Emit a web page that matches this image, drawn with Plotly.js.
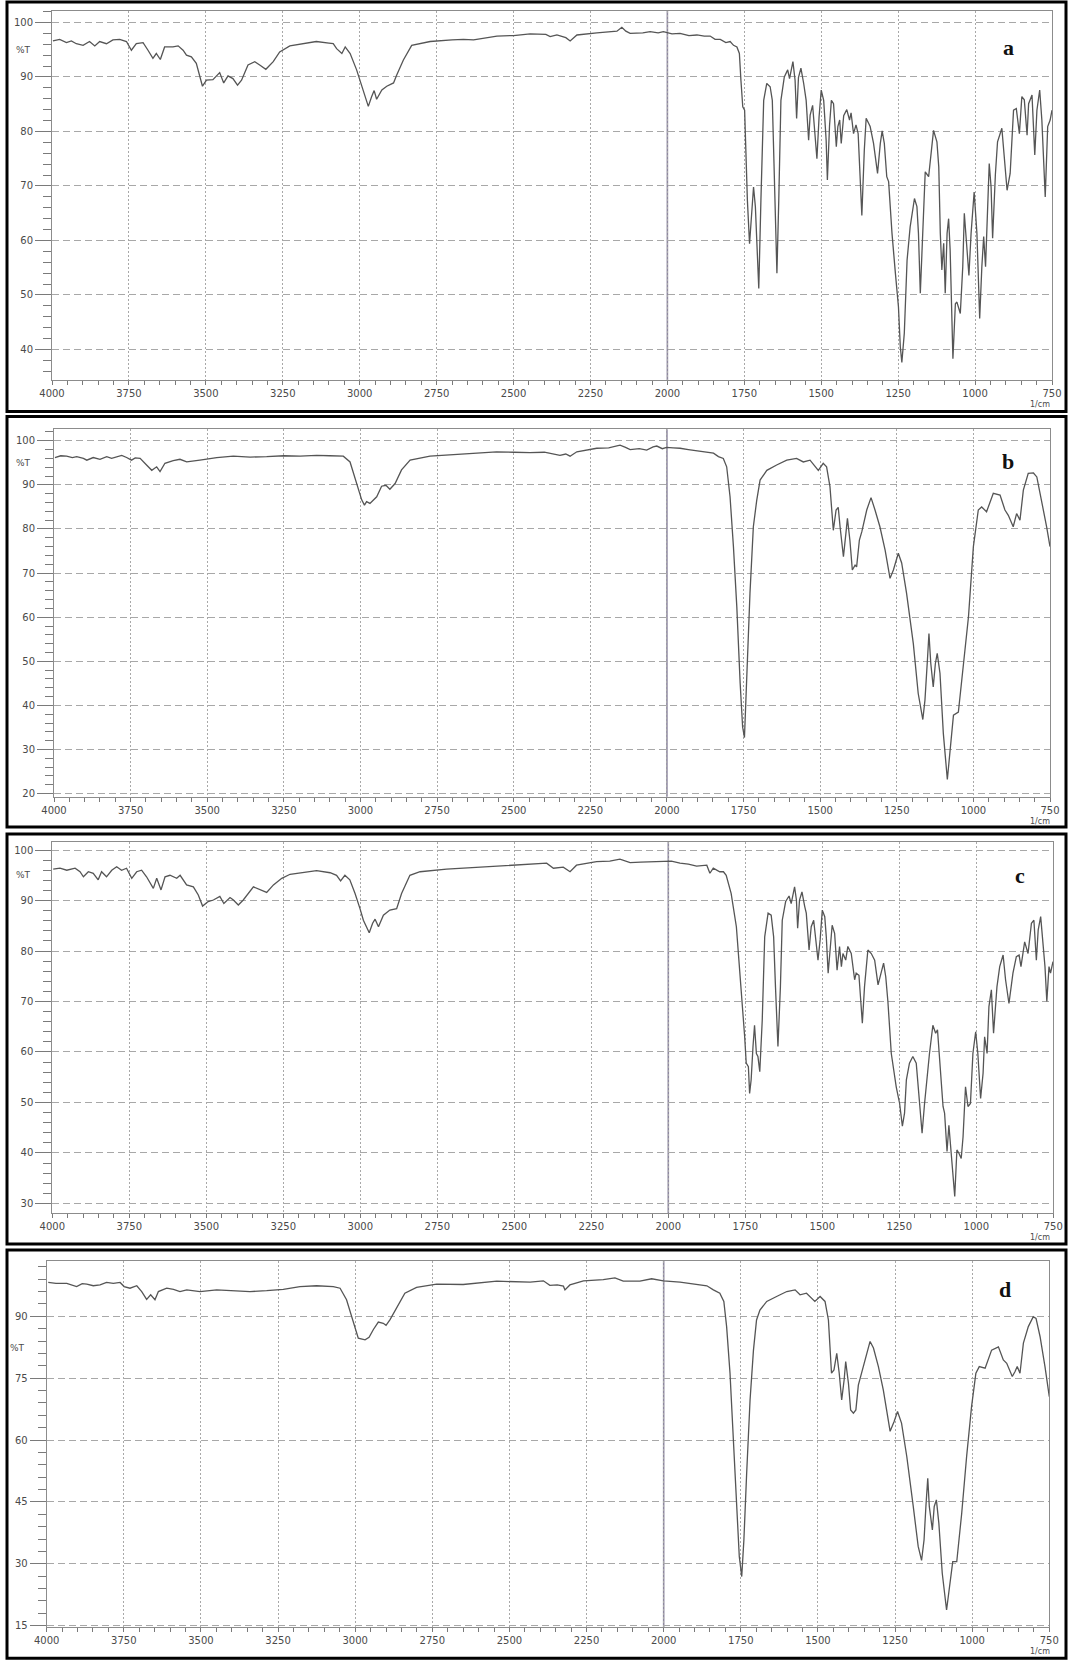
<!DOCTYPE html>
<html>
<head>
<meta charset="utf-8">
<script src="https://cdn.plot.ly/plotly-3.0.1.min.js"></script>
<style>
  html, body { margin: 0; padding: 0; background: #fff; }
  #chart { width: 1070px; height: 1661px; }
</style>
</head>
<body>
<div id="chart"></div>
<script>
// FTIR spectra, [wavenumber (1/cm), %T]
const specA = [[3997,96.6],[3975,96.9],[3953,96.3],[3937,96.6],[3921,96.1],[3899,95.8],[3878,96.5],[3861,95.7],[3845,96.5],[3823,96.1],[3802,96.8],[3780,96.9],[3758,96.5],[3742,94.9],[3726,96.1],[3704,96.3],[3688,94.9],[3672,93.4],[3661,94.3],[3648,93.2],[3634,95.5],[3607,95.5],[3590,95.7],[3574,94.9],[3563,94.0],[3547,93.7],[3531,92.5],[3520,90.3],[3511,88.3],[3498,89.4],[3477,89.5],[3455,90.8],[3442,88.9],[3428,90.2],[3412,89.7],[3397,88.5],[3384,89.4],[3363,92.2],[3341,92.8],[3325,92.2],[3305,91.4],[3281,92.8],[3260,94.6],[3227,95.7],[3195,96.0],[3141,96.5],[3100,96.2],[3086,96.1],[3075,95.2],[3058,94.3],[3047,95.5],[3031,94.3],[3010,91.3],[2988,87.6],[2972,84.6],[2961,86.4],[2953,87.5],[2945,85.9],[2928,87.6],[2912,88.3],[2890,88.9],[2880,90.3],[2858,93.1],[2831,95.8],[2771,96.5],[2700,96.8],[2663,96.9],[2630,96.8],[2554,97.5],[2500,97.6],[2446,97.9],[2395,97.8],[2381,97.4],[2359,97.7],[2330,97.2],[2316,96.6],[2294,97.7],[2229,98.1],[2190,98.2],[2164,98.4],[2148,99.1],[2135,98.4],[2121,98.0],[2080,98.1],[2056,98.3],[2030,98.1],[2013,98.3],[1985,97.9],[1959,98.0],[1930,97.6],[1904,97.7],[1880,97.5],[1861,97.5],[1845,96.9],[1828,96.9],[1810,96.3],[1796,96.5],[1785,95.8],[1774,95.5],[1766,94.3],[1761,89.4],[1755,84.5],[1749,83.9],[1745,74.1],[1740,67.4],[1733,59.4],[1725,66.2],[1720,69.8],[1714,66.2],[1707,56.4],[1703,51.2],[1696,67.4],[1687,85.7],[1677,88.8],[1666,88.2],[1659,85.7],[1653,74.7],[1644,54.0],[1638,67.4],[1631,85.7],[1620,90.0],[1609,91.3],[1603,89.7],[1592,92.8],[1585,89.4],[1580,82.4],[1574,89.9],[1566,91.6],[1557,88.8],[1549,85.7],[1541,78.4],[1536,83.0],[1528,84.8],[1520,79.6],[1514,75.0],[1507,82.7],[1500,87.6],[1492,85.7],[1484,78.4],[1480,71.1],[1473,81.1],[1467,85.7],[1460,85.1],[1451,77.2],[1446,80.9],[1440,82.1],[1435,77.8],[1427,82.9],[1417,84.0],[1408,82.1],[1403,83.4],[1395,79.6],[1387,81.2],[1380,79.6],[1368,64.6],[1360,76.6],[1354,82.4],[1346,81.5],[1341,80.9],[1330,77.8],[1317,72.3],[1308,77.8],[1302,80.1],[1295,77.8],[1287,71.7],[1281,70.8],[1270,61.3],[1259,54.0],[1249,47.8],[1243,40.5],[1238,37.6],[1230,43.0],[1221,56.4],[1211,62.5],[1197,67.7],[1189,66.2],[1184,61.3],[1178,50.3],[1170,61.3],[1162,72.6],[1151,71.7],[1146,74.1],[1135,80.2],[1124,78.1],[1118,73.5],[1113,61.3],[1108,54.6],[1102,59.5],[1097,50.3],[1091,61.3],[1086,64.0],[1081,58.2],[1072,38.3],[1064,48.4],[1059,48.7],[1048,46.6],[1040,55.2],[1035,65.0],[1029,60.1],[1020,53.6],[1013,61.3],[1003,68.9],[994,61.3],[985,45.7],[978,55.2],[972,60.7],[966,55.2],[959,67.4],[954,74.1],[948,69.8],[943,60.4],[934,72.1],[927,78.1],[913,80.6],[905,74.7],[896,69.2],[886,72.3],[875,83.9],[866,84.2],[856,79.6],[848,86.4],[840,85.8],[831,79.3],[826,85.1],[815,86.7],[806,75.7],[799,83.9],[790,87.6],[783,82.1],[772,68.0],[764,80.9],[756,82.1],[750,83.9]];

const specB = [[3997,96.2],[3978,96.6],[3959,96.5],[3940,96.2],[3926,96.4],[3904,96.0],[3893,95.6],[3872,96.2],[3850,95.8],[3828,96.4],[3812,96.0],[3796,96.4],[3779,96.7],[3763,96.2],[3747,95.6],[3735,96.1],[3719,96.0],[3698,94.5],[3681,93.3],[3665,94.1],[3654,93.0],[3638,94.9],[3611,95.5],[3589,95.8],[3567,95.2],[3524,95.6],[3469,96.2],[3415,96.5],[3360,96.3],[3306,96.4],[3250,96.6],[3197,96.5],[3143,96.7],[3100,96.6],[3056,96.5],[3034,95.2],[3029,94.1],[3012,90.3],[2996,86.6],[2987,85.4],[2980,86.2],[2969,85.8],[2947,87.3],[2931,89.7],[2917,89.9],[2904,89.0],[2887,90.3],[2866,93.4],[2838,95.6],[2773,96.5],[2700,96.8],[2664,97.1],[2610,97.2],[2556,97.5],[2500,97.4],[2447,97.3],[2400,97.4],[2371,97.1],[2349,96.7],[2330,97.0],[2316,96.5],[2294,97.5],[2260,98.0],[2229,98.3],[2190,98.4],[2153,99.0],[2135,98.5],[2120,98.0],[2090,98.2],[2066,97.9],[2045,98.6],[2033,98.8],[2015,98.2],[2001,98.5],[1980,98.4],[1957,98.3],[1930,98.0],[1903,97.7],[1870,97.5],[1848,97.2],[1832,96.4],[1816,96.0],[1805,94.1],[1794,87.3],[1783,76.0],[1772,62.4],[1761,45.0],[1753,35.1],[1747,32.7],[1740,45.0],[1729,65.4],[1718,80.5],[1707,86.5],[1696,91.1],[1674,93.3],[1642,94.5],[1609,95.6],[1577,96.0],[1555,95.2],[1533,95.6],[1506,93.3],[1490,94.9],[1479,94.1],[1468,89.6],[1457,79.7],[1448,84.3],[1441,84.9],[1435,80.5],[1424,73.7],[1416,79.0],[1411,82.4],[1403,77.5],[1395,70.7],[1386,71.8],[1381,71.4],[1372,77.5],[1364,79.4],[1348,84.3],[1334,87.1],[1321,84.3],[1305,80.5],[1288,75.2],[1272,68.8],[1261,70.7],[1245,74.5],[1234,72.3],[1218,65.4],[1196,54.0],[1180,42.7],[1165,36.8],[1158,41.2],[1150,50.3],[1145,56.3],[1139,49.5],[1131,44.2],[1124,49.5],[1118,51.8],[1109,47.3],[1098,33.6],[1085,23.2],[1076,29.9],[1065,37.8],[1049,38.5],[1033,48.7],[1016,60.1],[1000,76.0],[984,84.3],[973,85.0],[957,83.9],[935,88.1],[913,87.7],[897,84.3],[886,83.1],[870,80.5],[859,83.5],[848,82.0],[837,88.8],[821,92.6],[804,92.7],[793,91.8],[777,86.5],[761,80.5],[750,76.0]];

const specC = [[3997,96.2],[3975,96.4],[3953,96.0],[3926,96.4],[3910,95.7],[3899,94.7],[3883,95.7],[3867,95.4],[3851,94.1],[3840,95.7],[3824,94.7],[3807,96.0],[3791,96.7],[3775,96.0],[3759,96.4],[3742,94.4],[3726,95.7],[3710,96.0],[3694,94.7],[3672,92.4],[3661,94.4],[3647,92.1],[3634,94.7],[3618,95.0],[3596,94.4],[3585,95.0],[3564,93.1],[3542,92.7],[3526,91.1],[3512,88.9],[3494,89.8],[3477,90.1],[3456,90.8],[3443,89.4],[3423,90.6],[3412,90.1],[3396,89.1],[3380,90.1],[3347,92.7],[3326,92.2],[3304,91.6],[3282,93.1],[3255,94.4],[3228,95.2],[3196,95.5],[3142,95.9],[3098,95.5],[3077,95.0],[3064,93.9],[3050,95.0],[3034,94.1],[3017,91.4],[3001,88.4],[2990,86.1],[2971,83.6],[2960,85.5],[2952,86.3],[2941,84.8],[2925,87.1],[2904,88.1],[2882,88.4],[2866,91.4],[2839,95.0],[2806,95.7],[2720,96.2],[2611,96.6],[2503,97.1],[2450,97.2],[2395,97.4],[2373,96.4],[2341,96.6],[2319,95.7],[2298,97.0],[2233,97.7],[2190,97.8],[2157,98.2],[2124,97.5],[2090,97.6],[2059,97.7],[2016,97.7],[1990,97.8],[1962,97.4],[1935,97.2],[1908,96.8],[1875,97.0],[1865,95.4],[1854,96.4],[1833,95.7],[1821,95.7],[1812,95.0],[1796,91.4],[1779,84.8],[1763,72.9],[1752,63.0],[1747,57.8],[1740,57.1],[1736,51.8],[1731,54.5],[1725,61.1],[1720,65.3],[1714,59.7],[1709,59.1],[1703,56.1],[1695,66.3],[1687,82.8],[1676,87.5],[1666,87.1],[1658,82.8],[1652,72.9],[1644,61.1],[1636,72.9],[1630,86.1],[1619,89.8],[1608,90.9],[1601,89.4],[1590,92.7],[1584,90.1],[1580,84.5],[1574,90.1],[1566,91.7],[1557,88.8],[1552,87.5],[1543,80.2],[1536,84.8],[1528,86.1],[1520,80.9],[1514,78.2],[1507,82.2],[1500,88.1],[1492,86.8],[1487,82.8],[1481,75.6],[1473,82.2],[1468,85.1],[1460,83.5],[1452,76.2],[1444,80.9],[1438,76.9],[1433,79.5],[1424,78.2],[1417,80.9],[1406,79.5],[1395,74.3],[1390,75.6],[1381,75.2],[1370,65.7],[1363,72.9],[1352,80.2],[1341,79.5],[1330,78.2],[1319,73.3],[1308,76.2],[1301,77.6],[1294,74.9],[1287,70.0],[1276,59.7],[1260,53.1],[1249,49.8],[1240,45.3],[1233,47.9],[1227,54.5],[1217,57.8],[1206,59.1],[1195,57.8],[1184,49.8],[1176,43.9],[1168,49.8],[1159,55.8],[1152,59.7],[1141,65.3],[1132,63.7],[1126,64.4],[1119,57.8],[1108,49.2],[1103,47.9],[1095,40.3],[1089,45.5],[1081,39.9],[1070,31.4],[1063,40.6],[1056,39.9],[1049,38.9],[1043,43.2],[1035,53.1],[1027,49.2],[1019,49.8],[1011,59.7],[1002,64.0],[995,59.7],[986,50.8],[978,55.8],[973,63.0],[965,59.7],[959,69.0],[951,72.3],[944,63.7],[933,72.9],[924,76.9],[913,79.2],[905,74.3],[894,69.6],[881,75.6],[870,78.9],[861,79.2],[855,76.9],[843,81.8],[832,79.5],[821,85.5],[813,86.1],[805,78.2],[799,84.2],[791,86.8],[784,82.2],[777,76.9],[771,70.0],[764,76.9],[759,75.6],[751,77.9]];

const specD = [[3995,98.2],[3970,98.0],[3935,98.0],[3920,97.6],[3903,97.2],[3885,97.9],[3870,97.8],[3849,97.4],[3827,97.6],[3806,98.2],[3784,98.0],[3762,98.2],[3749,97.2],[3730,96.8],[3708,97.4],[3692,96.0],[3676,94.1],[3663,95.2],[3649,94.0],[3638,96.0],[3611,96.8],[3589,96.5],[3568,96.0],[3546,96.4],[3503,96.0],[3449,96.4],[3395,96.2],[3341,96.0],[3287,96.2],[3233,96.5],[3179,97.2],[3125,97.4],[3071,97.2],[3049,96.8],[3028,94.0],[3006,88.3],[2990,84.7],[2968,84.3],[2955,84.9],[2941,86.8],[2925,88.6],[2909,88.3],[2900,87.8],[2887,89.2],[2866,92.0],[2839,95.6],[2801,97.0],[2736,97.8],[2650,97.7],[2590,98.2],[2541,98.5],[2433,98.3],[2390,98.6],[2369,97.5],[2345,97.6],[2325,97.3],[2320,96.4],[2304,97.6],[2260,98.6],[2196,98.9],[2158,99.3],[2131,98.5],[2077,98.5],[2039,99.1],[2001,98.6],[1947,98.3],[1893,97.8],[1860,97.4],[1839,96.4],[1818,95.6],[1805,93.6],[1796,87.5],[1785,76.2],[1774,60.0],[1763,43.9],[1755,31.8],[1747,26.9],[1740,35.8],[1731,52.0],[1720,69.7],[1709,81.8],[1699,89.1],[1688,91.5],[1666,93.6],[1634,94.8],[1601,96.0],[1574,96.4],[1558,95.2],[1537,95.6],[1510,93.6],[1493,94.8],[1477,93.6],[1466,89.1],[1456,76.2],[1448,77.0],[1439,81.0],[1431,76.2],[1423,69.7],[1415,74.6],[1410,79.0],[1401,73.7],[1394,67.3],[1385,66.5],[1377,67.3],[1369,73.3],[1358,76.2],[1344,80.2],[1331,83.9],[1320,82.3],[1304,77.8],[1288,72.1],[1277,66.5],[1266,62.1],[1253,64.5],[1242,66.9],[1229,64.1],[1212,56.0],[1191,43.9],[1175,34.2],[1164,30.8],[1156,35.8],[1150,43.9],[1144,50.7],[1139,43.9],[1129,38.2],[1123,43.9],[1116,45.5],[1108,39.8],[1097,27.7],[1083,18.8],[1074,23.7],[1063,30.5],[1050,30.5],[1034,42.2],[1018,56.0],[1002,68.1],[988,76.2],[977,77.8],[958,77.4],[937,81.8],[915,82.6],[899,79.4],[888,78.6],[870,75.4],[861,76.6],[854,77.8],[845,76.2],[834,83.5],[818,87.5],[802,89.9],[793,89.5],[780,85.1],[764,77.8],[750,70.5]];

// axis ticks
const xTicks = [4000, 3750, 3500, 3250, 3000, 2750, 2500, 2250, 2000, 1750, 1500, 1250, 1000, 750];
const yTicksABC = [20, 30, 40, 50, 60, 70, 80, 90, 100];
const yTicksD = [15, 30, 45, 60, 75, 90];
const panelLabels = ['a', 'b', 'c', 'd'];
const yUnit = '%T';
const xUnit = '1/cm';

const W = 1070, H = 1661;
const px = v => v / W;
const py = v => 1 - v / H;

// panel geometry in page pixels
const panels = [
  { spec: specA, plot: [52, 1052, 11, 380],       yr: [34.4, 102.1], ticks: yTicksABC, minor: 2,
    frame: [7, 1066, 2, 411.5],     unitY: 50,    tag: [1008, 48] },
  { spec: specB, plot: [54, 1050, 429.3, 796.7],  yr: [19.3, 102.6], ticks: yTicksABC, minor: 2,
    frame: [7, 1066, 416.5, 827],   unitY: 462.7, tag: [1008, 461] },
  { spec: specC, plot: [52.3, 1053.3, 841.7, 1213.3], yr: [28.05, 101.65], ticks: yTicksABC, minor: 2,
    frame: [7, 1066, 834, 1244],    unitY: 875,   tag: [1020, 875] },
  { spec: specD, plot: [46.7, 1049.3, 1261, 1627.3], yr: [14.6, 103.4], ticks: yTicksD, minor: 3,
    frame: [7, 1066, 1250, 1658.3], unitY: 1348,  tag: [1005, 1289] }
];

const tickFont = { family: 'DejaVu Sans, Verdana, sans-serif', size: 10, color: '#4a4a4a' };
const data = [];
const layout = {
  width: W, height: H,
  margin: { l: 0, r: 0, t: 0, b: 0 },
  paper_bgcolor: '#ffffff', plot_bgcolor: '#ffffff',
  showlegend: false,
  shapes: [], annotations: []
};

panels.forEach((p, i) => {
  const n = i === 0 ? '' : String(i + 1);
  const xa = 'x' + n, ya = 'y' + n;
  data.push({
    x: p.spec.map(d => d[0]),
    y: p.spec.map(d => d[1]),
    xaxis: xa, yaxis: ya,
    type: 'scatter', mode: 'lines',
    line: { color: '#555555', width: 1.3 },
    hoverinfo: 'skip'
  });
  layout['xaxis' + n] = {
    domain: [px(p.plot[0]), px(p.plot[1])],
    anchor: ya,
    range: [4000, 750], autorange: false,
    tickmode: 'array', tickvals: xTicks, ticktext: xTicks.map(String),
    ticks: 'outside', ticklen: 4, tickwidth: 1, tickcolor: '#7a7a7a',
    minor: { dtick: 50, tick0: 0, ticks: 'outside', ticklen: 4, tickcolor: '#7a7a7a', showgrid: false },
    showgrid: true, gridcolor: '#a8a8a8', gridwidth: 1, griddash: '2px,2px',
    showline: true, mirror: true, linecolor: '#8c8c8c', linewidth: 1,
    zeroline: false, tickfont: tickFont, fixedrange: true
  };
  layout['yaxis' + n] = {
    domain: [py(p.plot[3]), py(p.plot[2])],
    anchor: xa,
    range: p.yr, autorange: false,
    tickmode: 'array', tickvals: p.ticks, ticktext: p.ticks.map(String),
    ticks: 'outside', ticklen: 16, tickwidth: 1, tickcolor: '#7a7a7a',
    minor: { dtick: p.minor, tick0: 0, ticks: 'outside', ticklen: 8, tickcolor: '#7a7a7a', showgrid: false },
    showgrid: true, gridcolor: '#a8a8a8', gridwidth: 1, griddash: '7px,4px',
    showline: true, mirror: true, linecolor: '#8c8c8c', linewidth: 1,
    zeroline: false, tickfont: tickFont, fixedrange: true
  };
  // solid reference line at 2000 1/cm
  layout.shapes.push({
    type: 'line', xref: xa, yref: ya + ' domain',
    x0: 2000, x1: 2000, y0: 0, y1: 1,
    line: { color: '#8e88a0', width: 1.6 }, layer: 'below'
  });
  // panel frame
  layout.shapes.push({
    type: 'rect', xref: 'paper', yref: 'paper',
    x0: px(p.frame[0]), x1: px(p.frame[1]), y0: py(p.frame[3]), y1: py(p.frame[2]),
    line: { color: '#000000', width: 3 }, fillcolor: 'rgba(0,0,0,0)', layer: 'above'
  });
  layout.annotations.push({
    xref: 'paper', yref: 'paper', x: px(i === 3 ? 27 : 33), y: py(p.unitY),
    xanchor: 'right', yanchor: 'middle', showarrow: false, text: yUnit,
    font: { family: 'DejaVu Sans, sans-serif', size: 9, color: '#4a4a4a' }
  });
  // unit caption just under the last x tick label
  layout.annotations.push({
    xref: 'paper', yref: 'paper', x: px(1040), y: py(p.plot[3] + 19),
    xanchor: 'center', yanchor: 'top', showarrow: false, text: xUnit,
    font: { family: 'DejaVu Sans, sans-serif', size: 8, color: '#4a4a4a' },
    borderpad: 0
  });
  layout.annotations.push({
    xref: 'paper', yref: 'paper', x: px(p.tag[0]), y: py(p.tag[1]),
    xanchor: 'center', yanchor: 'middle', showarrow: false,
    text: '<b>' + panelLabels[i] + '</b>',
    font: { family: 'Liberation Serif, Times New Roman, serif', size: 22, color: '#111111' }
  });
});

Plotly.newPlot('chart', data, layout, { displayModeBar: false, staticPlot: true });
</script>
</body>
</html>
